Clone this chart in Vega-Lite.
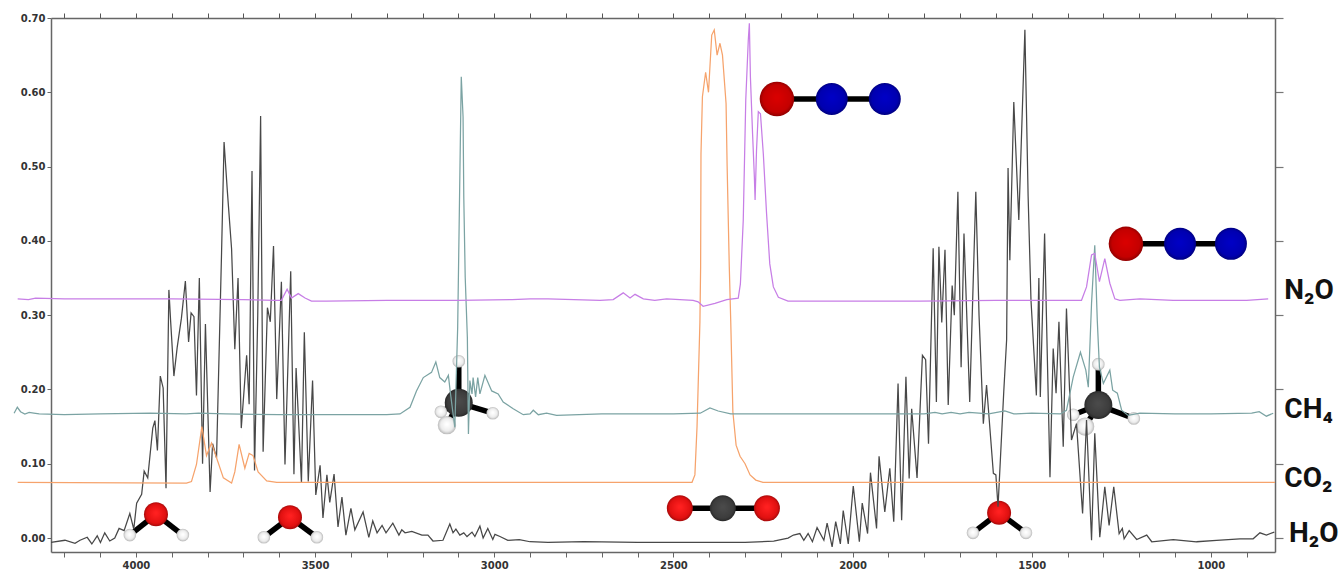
{
"$schema":"https://vega.github.io/schema/vega-lite/v6.json",
"width":1224,"height":534,
"autosize":{"type":"none"},
"padding":{"left":51,"top":18,"right":68,"bottom":22},
"background":"white",
"config":{"view":{"stroke":null},"font":"DejaVu Sans"},
"datasets":{
"curves":[
{"gas":"H2O","wn":4237,"abs":-0.006},{"gas":"H2O","wn":4198,"abs":-0.003},{"gas":"H2O","wn":4170,"abs":-0.007},{"gas":"H2O","wn":4156,"abs":-0.003},{"gas":"H2O","wn":4136,"abs":0.001},{"gas":"H2O","wn":4123,"abs":-0.008},{"gas":"H2O","wn":4108,"abs":0.003},{"gas":"H2O","wn":4099,"abs":-0.006},{"gas":"H2O","wn":4087,"abs":0.007},{"gas":"H2O","wn":4073,"abs":-0.004},{"gas":"H2O","wn":4059,"abs":0},{"gas":"H2O","wn":4047,"abs":0.013},{"gas":"H2O","wn":4033,"abs":0.01},{"gas":"H2O","wn":4017,"abs":0.033},{"gas":"H2O","wn":4006,"abs":0.012},{"gas":"H2O","wn":3998,"abs":0.047},{"gas":"H2O","wn":3984,"abs":0.059},{"gas":"H2O","wn":3977,"abs":0.09},{"gas":"H2O","wn":3967,"abs":0.081},{"gas":"H2O","wn":3953,"abs":0.148},{"gas":"H2O","wn":3947,"abs":0.158},{"gas":"H2O","wn":3940,"abs":0.118},{"gas":"H2O","wn":3932,"abs":0.218},{"gas":"H2O","wn":3924,"abs":0.202},{"gas":"H2O","wn":3916,"abs":0.067},{"gas":"H2O","wn":3908,"abs":0.334},{"gas":"H2O","wn":3903,"abs":0.291},{"gas":"H2O","wn":3894,"abs":0.218},{"gas":"H2O","wn":3885,"abs":0.256},{"gas":"H2O","wn":3873,"abs":0.296},{"gas":"H2O","wn":3862,"abs":0.346},{"gas":"H2O","wn":3853,"abs":0.264},{"gas":"H2O","wn":3846,"abs":0.303},{"gas":"H2O","wn":3838,"abs":0.298},{"gas":"H2O","wn":3831,"abs":0.192},{"gas":"H2O","wn":3823,"abs":0.35},{"gas":"H2O","wn":3814,"abs":0.1},{"gas":"H2O","wn":3806,"abs":0.288},{"gas":"H2O","wn":3793,"abs":0.062},{"gas":"H2O","wn":3786,"abs":0.127},{"gas":"H2O","wn":3775,"abs":0.108},{"gas":"H2O","wn":3761,"abs":0.384},{"gas":"H2O","wn":3754,"abs":0.533},{"gas":"H2O","wn":3745,"abs":0.468},{"gas":"H2O","wn":3733,"abs":0.389},{"gas":"H2O","wn":3724,"abs":0.254},{"gas":"H2O","wn":3715,"abs":0.35},{"gas":"H2O","wn":3706,"abs":0.148},{"gas":"H2O","wn":3691,"abs":0.246},{"gas":"H2O","wn":3684,"abs":0.18},{"gas":"H2O","wn":3676,"abs":0.494},{"gas":"H2O","wn":3669,"abs":0.091},{"gas":"H2O","wn":3660,"abs":0.3},{"gas":"H2O","wn":3652,"abs":0.568},{"gas":"H2O","wn":3645,"abs":0.116},{"gas":"H2O","wn":3633,"abs":0.31},{"gas":"H2O","wn":3625,"abs":0.291},{"gas":"H2O","wn":3616,"abs":0.393},{"gas":"H2O","wn":3607,"abs":0.187},{"gas":"H2O","wn":3594,"abs":0.345},{"gas":"H2O","wn":3584,"abs":0.099},{"gas":"H2O","wn":3568,"abs":0.359},{"gas":"H2O","wn":3559,"abs":0.086},{"gas":"H2O","wn":3553,"abs":0.229},{"gas":"H2O","wn":3538,"abs":0.074},{"gas":"H2O","wn":3530,"abs":0.277},{"gas":"H2O","wn":3519,"abs":0.076},{"gas":"H2O","wn":3507,"abs":0.212},{"gas":"H2O","wn":3498,"abs":0.058},{"gas":"H2O","wn":3486,"abs":0.098},{"gas":"H2O","wn":3478,"abs":0.027},{"gas":"H2O","wn":3467,"abs":0.085},{"gas":"H2O","wn":3459,"abs":0.048},{"gas":"H2O","wn":3447,"abs":0.086},{"gas":"H2O","wn":3436,"abs":0.015},{"gas":"H2O","wn":3425,"abs":0.055},{"gas":"H2O","wn":3414,"abs":0.004},{"gas":"H2O","wn":3400,"abs":0.04},{"gas":"H2O","wn":3389,"abs":0.011},{"gas":"H2O","wn":3366,"abs":0.035},{"gas":"H2O","wn":3350,"abs":0.001},{"gas":"H2O","wn":3339,"abs":0.023},{"gas":"H2O","wn":3327,"abs":0.007},{"gas":"H2O","wn":3313,"abs":0.017},{"gas":"H2O","wn":3302,"abs":0.007},{"gas":"H2O","wn":3283,"abs":0.02},{"gas":"H2O","wn":3266,"abs":0.004},{"gas":"H2O","wn":3258,"abs":0.011},{"gas":"H2O","wn":3249,"abs":0.007},{"gas":"H2O","wn":3230,"abs":0.009},{"gas":"H2O","wn":3202,"abs":0.004},{"gas":"H2O","wn":3185,"abs":0.004},{"gas":"H2O","wn":3171,"abs":-0.004},{"gas":"H2O","wn":3143,"abs":-0.003},{"gas":"H2O","wn":3124,"abs":0.019},{"gas":"H2O","wn":3115,"abs":0.007},{"gas":"H2O","wn":3107,"abs":0.012},{"gas":"H2O","wn":3096,"abs":0.004},{"gas":"H2O","wn":3085,"abs":0.007},{"gas":"H2O","wn":3076,"abs":0.002},{"gas":"H2O","wn":3062,"abs":0.008},{"gas":"H2O","wn":3054,"abs":0.002},{"gas":"H2O","wn":3040,"abs":0.016},{"gas":"H2O","wn":3031,"abs":0},{"gas":"H2O","wn":3018,"abs":0.013},{"gas":"H2O","wn":3004,"abs":-0.002},{"gas":"H2O","wn":2998,"abs":0.005},{"gas":"H2O","wn":2984,"abs":0.002},{"gas":"H2O","wn":2962,"abs":-0.003},{"gas":"H2O","wn":2930,"abs":-0.002},{"gas":"H2O","wn":2900,"abs":-0.005},{"gas":"H2O","wn":2850,"abs":-0.006},{"gas":"H2O","wn":2750,"abs":-0.005},{"gas":"H2O","wn":2600,"abs":-0.006},{"gas":"H2O","wn":2450,"abs":-0.006},{"gas":"H2O","wn":2300,"abs":-0.006},{"gas":"H2O","wn":2220,"abs":-0.004},{"gas":"H2O","wn":2180,"abs":0},{"gas":"H2O","wn":2165,"abs":0.004},{"gas":"H2O","wn":2147,"abs":0.006},{"gas":"H2O","wn":2136,"abs":-0.003},{"gas":"H2O","wn":2124,"abs":0.006},{"gas":"H2O","wn":2112,"abs":-0.005},{"gas":"H2O","wn":2099,"abs":0.014},{"gas":"H2O","wn":2080,"abs":-0.003},{"gas":"H2O","wn":2071,"abs":0.02},{"gas":"H2O","wn":2057,"abs":-0.012},{"gas":"H2O","wn":2047,"abs":0.022},{"gas":"H2O","wn":2034,"abs":-0.008},{"gas":"H2O","wn":2026,"abs":0.037},{"gas":"H2O","wn":2012,"abs":-0.008},{"gas":"H2O","wn":1998,"abs":0.07},{"gas":"H2O","wn":1981,"abs":-0.005},{"gas":"H2O","wn":1973,"abs":0.047},{"gas":"H2O","wn":1958,"abs":0.006},{"gas":"H2O","wn":1950,"abs":0.088},{"gas":"H2O","wn":1933,"abs":0.013},{"gas":"H2O","wn":1926,"abs":0.11},{"gas":"H2O","wn":1910,"abs":0.035},{"gas":"H2O","wn":1896,"abs":0.094},{"gas":"H2O","wn":1885,"abs":0.022},{"gas":"H2O","wn":1873,"abs":0.208},{"gas":"H2O","wn":1863,"abs":0.024},{"gas":"H2O","wn":1851,"abs":0.217},{"gas":"H2O","wn":1842,"abs":0.08},{"gas":"H2O","wn":1835,"abs":0.174},{"gas":"H2O","wn":1820,"abs":0.081},{"gas":"H2O","wn":1805,"abs":0.246},{"gas":"H2O","wn":1796,"abs":0.24},{"gas":"H2O","wn":1788,"abs":0.127},{"gas":"H2O","wn":1775,"abs":0.39},{"gas":"H2O","wn":1766,"abs":0.183},{"gas":"H2O","wn":1759,"abs":0.392},{"gas":"H2O","wn":1751,"abs":0.29},{"gas":"H2O","wn":1742,"abs":0.388},{"gas":"H2O","wn":1733,"abs":0.179},{"gas":"H2O","wn":1722,"abs":0.34},{"gas":"H2O","wn":1716,"abs":0.3},{"gas":"H2O","wn":1706,"abs":0.466},{"gas":"H2O","wn":1697,"abs":0.23},{"gas":"H2O","wn":1689,"abs":0.41},{"gas":"H2O","wn":1673,"abs":0.183},{"gas":"H2O","wn":1656,"abs":0.466},{"gas":"H2O","wn":1647,"abs":0.3},{"gas":"H2O","wn":1635,"abs":0.154},{"gas":"H2O","wn":1626,"abs":0.206},{"gas":"H2O","wn":1607,"abs":0.087},{"gas":"H2O","wn":1600,"abs":0.085},{"gas":"H2O","wn":1594,"abs":0.042},{"gas":"H2O","wn":1578,"abs":0.197},{"gas":"H2O","wn":1570,"abs":0.267},{"gas":"H2O","wn":1566,"abs":0.498},{"gas":"H2O","wn":1561,"abs":0.374},{"gas":"H2O","wn":1550,"abs":0.587},{"gas":"H2O","wn":1536,"abs":0.428},{"gas":"H2O","wn":1519,"abs":0.684},{"gas":"H2O","wn":1510,"abs":0.46},{"gas":"H2O","wn":1502,"abs":0.32},{"gas":"H2O","wn":1487,"abs":0.192},{"gas":"H2O","wn":1480,"abs":0.35},{"gas":"H2O","wn":1476,"abs":0.19},{"gas":"H2O","wn":1464,"abs":0.41},{"gas":"H2O","wn":1449,"abs":0.082},{"gas":"H2O","wn":1440,"abs":0.255},{"gas":"H2O","wn":1432,"abs":0.195},{"gas":"H2O","wn":1424,"abs":0.291},{"gas":"H2O","wn":1412,"abs":0.123},{"gas":"H2O","wn":1403,"abs":0.309},{"gas":"H2O","wn":1389,"abs":0.132},{"gas":"H2O","wn":1375,"abs":0.154},{"gas":"H2O","wn":1358,"abs":0.033},{"gas":"H2O","wn":1347,"abs":0.159},{"gas":"H2O","wn":1333,"abs":-0.003},{"gas":"H2O","wn":1324,"abs":0.141},{"gas":"H2O","wn":1310,"abs":0.001},{"gas":"H2O","wn":1296,"abs":0.069},{"gas":"H2O","wn":1284,"abs":0.017},{"gas":"H2O","wn":1271,"abs":0.069},{"gas":"H2O","wn":1256,"abs":0.006},{"gas":"H2O","wn":1247,"abs":0.013},{"gas":"H2O","wn":1242,"abs":-0.001},{"gas":"H2O","wn":1228,"abs":0.01},{"gas":"H2O","wn":1207,"abs":-0.002},{"gas":"H2O","wn":1179,"abs":0.004},{"gas":"H2O","wn":1165,"abs":-0.005},{"gas":"H2O","wn":1105,"abs":-0.002},{"gas":"H2O","wn":1040,"abs":-0.005},{"gas":"H2O","wn":984,"abs":-0.003},{"gas":"H2O","wn":919,"abs":-0.001},{"gas":"H2O","wn":882,"abs":-0.001},{"gas":"H2O","wn":863,"abs":0.007},{"gas":"H2O","wn":845,"abs":0.004},{"gas":"H2O","wn":823,"abs":0.008},

{"gas":"CO2","wn":4330,"abs":0.075},{"gas":"CO2","wn":3859,"abs":0.074},{"gas":"CO2","wn":3845,"abs":0.076},{"gas":"CO2","wn":3831,"abs":0.099},{"gas":"CO2","wn":3816,"abs":0.15},{"gas":"CO2","wn":3803,"abs":0.111},{"gas":"CO2","wn":3789,"abs":0.128},{"gas":"CO2","wn":3775,"abs":0.108},{"gas":"CO2","wn":3756,"abs":0.081},{"gas":"CO2","wn":3733,"abs":0.074},{"gas":"CO2","wn":3724,"abs":0.089},{"gas":"CO2","wn":3712,"abs":0.126},{"gas":"CO2","wn":3696,"abs":0.094},{"gas":"CO2","wn":3684,"abs":0.114},{"gas":"CO2","wn":3673,"abs":0.111},{"gas":"CO2","wn":3659,"abs":0.089},{"gas":"CO2","wn":3635,"abs":0.077},{"gas":"CO2","wn":3607,"abs":0.075},{"gas":"CO2","wn":2448,"abs":0.075},{"gas":"CO2","wn":2440,"abs":0.085},{"gas":"CO2","wn":2434,"abs":0.15},{"gas":"CO2","wn":2426,"abs":0.29},{"gas":"CO2","wn":2424,"abs":0.365},{"gas":"CO2","wn":2423,"abs":0.517},{"gas":"CO2","wn":2419,"abs":0.594},{"gas":"CO2","wn":2410,"abs":0.627},{"gas":"CO2","wn":2402,"abs":0.6},{"gas":"CO2","wn":2393,"abs":0.677},{"gas":"CO2","wn":2386,"abs":0.684},{"gas":"CO2","wn":2378,"abs":0.65},{"gas":"CO2","wn":2370,"abs":0.666},{"gas":"CO2","wn":2363,"abs":0.65},{"gas":"CO2","wn":2353,"abs":0.585},{"gas":"CO2","wn":2350,"abs":0.5},{"gas":"CO2","wn":2344,"abs":0.365},{"gas":"CO2","wn":2340,"abs":0.293},{"gas":"CO2","wn":2334,"abs":0.17},{"gas":"CO2","wn":2325,"abs":0.125},{"gas":"CO2","wn":2314,"abs":0.11},{"gas":"CO2","wn":2300,"abs":0.1},{"gas":"CO2","wn":2286,"abs":0.085},{"gas":"CO2","wn":2270,"abs":0.078},{"gas":"CO2","wn":2250,"abs":0.075},{"gas":"CO2","wn":821,"abs":0.075},

{"gas":"CH4","wn":4340,"abs":0.168},{"gas":"CH4","wn":4331,"abs":0.176},{"gas":"CH4","wn":4322,"abs":0.17},{"gas":"CH4","wn":4310,"abs":0.167},{"gas":"CH4","wn":4298,"abs":0.169},{"gas":"CH4","wn":4285,"abs":0.168},{"gas":"CH4","wn":4270,"abs":0.167},{"gas":"CH4","wn":4200,"abs":0.166},{"gas":"CH4","wn":4100,"abs":0.167},{"gas":"CH4","wn":3960,"abs":0.168},{"gas":"CH4","wn":3860,"abs":0.167},{"gas":"CH4","wn":3825,"abs":0.168},{"gas":"CH4","wn":3750,"abs":0.167},{"gas":"CH4","wn":3600,"abs":0.166},{"gas":"CH4","wn":3450,"abs":0.166},{"gas":"CH4","wn":3300,"abs":0.166},{"gas":"CH4","wn":3263,"abs":0.167},{"gas":"CH4","wn":3235,"abs":0.176},{"gas":"CH4","wn":3217,"abs":0.198},{"gas":"CH4","wn":3198,"abs":0.216},{"gas":"CH4","wn":3175,"abs":0.223},{"gas":"CH4","wn":3163,"abs":0.237},{"gas":"CH4","wn":3152,"abs":0.216},{"gas":"CH4","wn":3138,"abs":0.21},{"gas":"CH4","wn":3128,"abs":0.219},{"gas":"CH4","wn":3122,"abs":0.194},{"gas":"CH4","wn":3110,"abs":0.149},{"gas":"CH4","wn":3102,"abs":0.284},{"gas":"CH4","wn":3098,"abs":0.418},{"gas":"CH4","wn":3092,"abs":0.621},{"gas":"CH4","wn":3087,"abs":0.567},{"gas":"CH4","wn":3085,"abs":0.459},{"gas":"CH4","wn":3081,"abs":0.351},{"gas":"CH4","wn":3075,"abs":0.27},{"gas":"CH4","wn":3072,"abs":0.14},{"gas":"CH4","wn":3068,"abs":0.212},{"gas":"CH4","wn":3062,"abs":0.194},{"gas":"CH4","wn":3059,"abs":0.216},{"gas":"CH4","wn":3052,"abs":0.19},{"gas":"CH4","wn":3046,"abs":0.216},{"gas":"CH4","wn":3040,"abs":0.194},{"gas":"CH4","wn":3026,"abs":0.219},{"gas":"CH4","wn":3007,"abs":0.198},{"gas":"CH4","wn":2989,"abs":0.194},{"gas":"CH4","wn":2975,"abs":0.183},{"gas":"CH4","wn":2947,"abs":0.174},{"gas":"CH4","wn":2919,"abs":0.166},{"gas":"CH4","wn":2900,"abs":0.167},{"gas":"CH4","wn":2891,"abs":0.172},{"gas":"CH4","wn":2877,"abs":0.166},{"gas":"CH4","wn":2854,"abs":0.168},{"gas":"CH4","wn":2826,"abs":0.165},{"gas":"CH4","wn":2700,"abs":0.167},{"gas":"CH4","wn":2500,"abs":0.167},{"gas":"CH4","wn":2425,"abs":0.168},{"gas":"CH4","wn":2398,"abs":0.175},{"gas":"CH4","wn":2375,"abs":0.171},{"gas":"CH4","wn":2340,"abs":0.167},{"gas":"CH4","wn":2000,"abs":0.167},{"gas":"CH4","wn":1800,"abs":0.167},{"gas":"CH4","wn":1770,"abs":0.169},{"gas":"CH4","wn":1750,"abs":0.167},{"gas":"CH4","wn":1725,"abs":0.169},{"gas":"CH4","wn":1700,"abs":0.167},{"gas":"CH4","wn":1675,"abs":0.169},{"gas":"CH4","wn":1620,"abs":0.167},{"gas":"CH4","wn":1575,"abs":0.171},{"gas":"CH4","wn":1550,"abs":0.167},{"gas":"CH4","wn":1500,"abs":0.168},{"gas":"CH4","wn":1420,"abs":0.167},{"gas":"CH4","wn":1403,"abs":0.172},{"gas":"CH4","wn":1384,"abs":0.217},{"gas":"CH4","wn":1364,"abs":0.25},{"gas":"CH4","wn":1349,"abs":0.226},{"gas":"CH4","wn":1342,"abs":0.203},{"gas":"CH4","wn":1333,"abs":0.316},{"gas":"CH4","wn":1324,"abs":0.394},{"gas":"CH4","wn":1317,"abs":0.293},{"gas":"CH4","wn":1311,"abs":0.23},{"gas":"CH4","wn":1300,"abs":0.208},{"gas":"CH4","wn":1291,"abs":0.217},{"gas":"CH4","wn":1282,"abs":0.226},{"gas":"CH4","wn":1274,"abs":0.199},{"gas":"CH4","wn":1261,"abs":0.195},{"gas":"CH4","wn":1249,"abs":0.172},{"gas":"CH4","wn":1231,"abs":0.165},{"gas":"CH4","wn":1198,"abs":0.168},{"gas":"CH4","wn":1100,"abs":0.167},{"gas":"CH4","wn":1000,"abs":0.167},{"gas":"CH4","wn":886,"abs":0.168},{"gas":"CH4","wn":865,"abs":0.17},{"gas":"CH4","wn":845,"abs":0.164},{"gas":"CH4","wn":826,"abs":0.168},

{"gas":"N2O","wn":4330,"abs":0.322},{"gas":"N2O","wn":4300,"abs":0.321},{"gas":"N2O","wn":4280,"abs":0.323},{"gas":"N2O","wn":4200,"abs":0.322},{"gas":"N2O","wn":3900,"abs":0.322},{"gas":"N2O","wn":3700,"abs":0.321},{"gas":"N2O","wn":3610,"abs":0.32},{"gas":"N2O","wn":3594,"abs":0.32},{"gas":"N2O","wn":3578,"abs":0.335},{"gas":"N2O","wn":3566,"abs":0.323},{"gas":"N2O","wn":3547,"abs":0.329},{"gas":"N2O","wn":3528,"abs":0.323},{"gas":"N2O","wn":3510,"abs":0.319},{"gas":"N2O","wn":3468,"abs":0.319},{"gas":"N2O","wn":3300,"abs":0.32},{"gas":"N2O","wn":3100,"abs":0.32},{"gas":"N2O","wn":2950,"abs":0.321},{"gas":"N2O","wn":2900,"abs":0.322},{"gas":"N2O","wn":2850,"abs":0.322},{"gas":"N2O","wn":2705,"abs":0.32},{"gas":"N2O","wn":2668,"abs":0.321},{"gas":"N2O","wn":2640,"abs":0.33},{"gas":"N2O","wn":2621,"abs":0.323},{"gas":"N2O","wn":2607,"abs":0.328},{"gas":"N2O","wn":2584,"abs":0.322},{"gas":"N2O","wn":2552,"abs":0.32},{"gas":"N2O","wn":2519,"abs":0.322},{"gas":"N2O","wn":2445,"abs":0.32},{"gas":"N2O","wn":2431,"abs":0.318},{"gas":"N2O","wn":2417,"abs":0.312},{"gas":"N2O","wn":2384,"abs":0.316},{"gas":"N2O","wn":2351,"abs":0.321},{"gas":"N2O","wn":2319,"abs":0.323},{"gas":"N2O","wn":2313,"abs":0.342},{"gas":"N2O","wn":2305,"abs":0.428},{"gas":"N2O","wn":2298,"abs":0.59},{"gas":"N2O","wn":2291,"abs":0.67},{"gas":"N2O","wn":2288,"abs":0.693},{"gas":"N2O","wn":2285,"abs":0.62},{"gas":"N2O","wn":2279,"abs":0.544},{"gas":"N2O","wn":2274,"abs":0.486},{"gas":"N2O","wn":2272,"abs":0.455},{"gas":"N2O","wn":2268,"abs":0.522},{"gas":"N2O","wn":2263,"abs":0.574},{"gas":"N2O","wn":2257,"abs":0.571},{"gas":"N2O","wn":2249,"abs":0.517},{"gas":"N2O","wn":2240,"abs":0.437},{"gas":"N2O","wn":2231,"abs":0.369},{"gas":"N2O","wn":2221,"abs":0.338},{"gas":"N2O","wn":2207,"abs":0.324},{"gas":"N2O","wn":2180,"abs":0.319},{"gas":"N2O","wn":2054,"abs":0.319},{"gas":"N2O","wn":1812,"abs":0.319},{"gas":"N2O","wn":1600,"abs":0.32},{"gas":"N2O","wn":1450,"abs":0.32},{"gas":"N2O","wn":1361,"abs":0.32},{"gas":"N2O","wn":1347,"abs":0.338},{"gas":"N2O","wn":1333,"abs":0.381},{"gas":"N2O","wn":1324,"abs":0.383},{"gas":"N2O","wn":1311,"abs":0.345},{"gas":"N2O","wn":1296,"abs":0.376},{"gas":"N2O","wn":1282,"abs":0.343},{"gas":"N2O","wn":1268,"abs":0.322},{"gas":"N2O","wn":1254,"abs":0.32},{"gas":"N2O","wn":1198,"abs":0.322},{"gas":"N2O","wn":1105,"abs":0.32},{"gas":"N2O","wn":900,"abs":0.32},{"gas":"N2O","wn":840,"abs":0.322}
],
"atoms":[
{"molecule":"H2O-a","atom":"O","ball":"water O","wn":3944,"abs":0.032},{"molecule":"H2O-a","atom":"H","ball":"water H","wn":4017,"abs":0.004},{"molecule":"H2O-a","atom":"H","ball":"water H","wn":3869,"abs":0.004},
{"molecule":"H2O-b","atom":"O","ball":"water O","wn":3570,"abs":0.028},{"molecule":"H2O-b","atom":"H","ball":"water H","wn":3643,"abs":0.001},{"molecule":"H2O-b","atom":"H","ball":"water H","wn":3495,"abs":0.001},
{"molecule":"H2O-c","atom":"O","ball":"water O","wn":1591,"abs":0.034},{"molecule":"H2O-c","atom":"H","ball":"water H","wn":1664,"abs":0.007},{"molecule":"H2O-c","atom":"H","ball":"water H","wn":1516,"abs":0.007},
{"molecule":"CO2","atom":"O","ball":"carbon dioxide","wn":2482,"abs":0.04},{"molecule":"CO2","atom":"C","ball":"carbon dioxide","wn":2362,"abs":0.04},{"molecule":"CO2","atom":"O","ball":"carbon dioxide","wn":2239,"abs":0.04},
{"molecule":"CH4-a","atom":"C","ball":"methane C","wn":3099,"abs":0.182},{"molecule":"CH4-a","atom":"H","ball":"methane H","wn":3099,"abs":0.238},{"molecule":"CH4-a","atom":"H","ball":"methane H","wn":3149,"abs":0.17},{"molecule":"CH4-a","atom":"H","ball":"methane H near","wn":3132,"abs":0.152},{"molecule":"CH4-a","atom":"H","ball":"methane H","wn":3004,"abs":0.168},
{"molecule":"CH4-b","atom":"C","ball":"methane C","wn":1314,"abs":0.179},{"molecule":"CH4-b","atom":"H","ball":"methane H","wn":1314,"abs":0.234},{"molecule":"CH4-b","atom":"H","ball":"methane H","wn":1384,"abs":0.166},{"molecule":"CH4-b","atom":"H","ball":"methane H near","wn":1351,"abs":0.15},{"molecule":"CH4-b","atom":"H","ball":"methane H","wn":1215,"abs":0.161},
{"molecule":"N2O-a","atom":"Ox","ball":"nitrous O","wn":2211,"abs":0.591},{"molecule":"N2O-a","atom":"N","ball":"nitrous N","wn":2058,"abs":0.591},{"molecule":"N2O-a","atom":"N","ball":"nitrous N","wn":1910,"abs":0.591},
{"molecule":"N2O-b","atom":"Ox","ball":"nitrous O","wn":1237,"abs":0.396},{"molecule":"N2O-b","atom":"N","ball":"nitrous N","wn":1086,"abs":0.396},{"molecule":"N2O-b","atom":"N","ball":"nitrous N","wn":944,"abs":0.396}
],
"bonds":[
{"bond":"w1a","wn":3944,"abs":0.032},{"bond":"w1a","wn":4017,"abs":0.004},{"bond":"w1b","wn":3944,"abs":0.032},{"bond":"w1b","wn":3869,"abs":0.004},
{"bond":"w2a","wn":3570,"abs":0.028},{"bond":"w2a","wn":3643,"abs":0.001},{"bond":"w2b","wn":3570,"abs":0.028},{"bond":"w2b","wn":3495,"abs":0.001},
{"bond":"w3a","wn":1591,"abs":0.034},{"bond":"w3a","wn":1664,"abs":0.007},{"bond":"w3b","wn":1591,"abs":0.034},{"bond":"w3b","wn":1516,"abs":0.007},
{"bond":"c","wn":2482,"abs":0.04},{"bond":"c","wn":2239,"abs":0.04},
{"bond":"m1a","wn":3099,"abs":0.182},{"bond":"m1a","wn":3099,"abs":0.238},{"bond":"m1b","wn":3099,"abs":0.182},{"bond":"m1b","wn":3149,"abs":0.17},{"bond":"m1c","wn":3099,"abs":0.182},{"bond":"m1c","wn":3132,"abs":0.152},{"bond":"m1d","wn":3099,"abs":0.182},{"bond":"m1d","wn":3004,"abs":0.168},
{"bond":"m2a","wn":1314,"abs":0.179},{"bond":"m2a","wn":1314,"abs":0.234},{"bond":"m2b","wn":1314,"abs":0.179},{"bond":"m2b","wn":1384,"abs":0.166},{"bond":"m2c","wn":1314,"abs":0.179},{"bond":"m2c","wn":1351,"abs":0.15},{"bond":"m2d","wn":1314,"abs":0.179},{"bond":"m2d","wn":1215,"abs":0.161},
{"bond":"n1","wn":2211,"abs":0.591},{"bond":"n1","wn":1910,"abs":0.591},
{"bond":"n2","wn":1237,"abs":0.396},{"bond":"n2","wn":944,"abs":0.396}
],
"labels":[
{"text":"N₂O","wn":795,"abs":0.333},{"text":"CH₄","wn":795,"abs":0.172},{"text":"CO₂","wn":795,"abs":0.08},{"text":"H₂O","wn":782,"abs":0.006}
]
},
"resolve":{"axis":{"x":"independent","y":"independent"}},
"layer":[
{"data":{"name":"bonds"},
 "mark":{"type":"line","stroke":"#000000","strokeWidth":5.5,"strokeCap":"butt"},
 "encoding":{
  "x":{"field":"wn","type":"quantitative","scale":{"domain":[4237,821],"nice":false,"zero":false},
    "axis":{"orient":"top","title":null,"values":[4200,4100,4000,3900,3800,3700,3600,3500,3400,3300,3200,3100,3000,2900,2800,2700,2600,2500,2400,2300,2200,2100,2000,1900,1800,1700,1600,1500,1400,1300,1200,1100,1000,900],"labels":false,"grid":false,"domainColor":"#666666","domainWidth":1.5,"tickColor":"#555555","tickWidth":1,"encoding":{"ticks":{"update":{"y2":{"signal":"datum.value % 500 === 0 ? -7 : -3"}}}}}},
  "y":{"field":"abs","type":"quantitative","scale":{"domain":[-0.0188,0.7],"nice":false,"zero":false},
    "axis":{"orient":"right","title":null,"values":[0,0.1,0.2,0.3,0.4,0.5,0.6,0.7],"labels":false,"grid":false,"domainColor":"#666666","domainWidth":1.5,"tickColor":"#777777","tickWidth":1.2,"tickSize":8}},
  "detail":{"field":"bond"}}},
{"data":{"name":"atoms"},"transform":[{"filter":"datum.atom === 'O'"}],
 "mark":{"type":"point","shape":"circle","filled":true,"opacity":1,"fill":{"gradient":"radial","x1":0.5,"y1":0.45,"r1":0.05,"x2":0.5,"y2":0.5,"r2":0.55,"stops":[{"offset":0,"color":"#ff2020"},{"offset":0.7,"color":"#e01010"},{"offset":1,"color":"#8a0808"}]}},
 "encoding":{"x":{"field":"wn","type":"quantitative","axis":null},"y":{"field":"abs","type":"quantitative","axis":null},
  "size":{"field":"ball","type":"nominal","legend":null,"scale":{"type":"ordinal","domain":["water O","water H","carbon dioxide","methane C","methane H","methane H near","nitrous O","nitrous N"],"range":[576,160,676,784,160,340,1190,1024]}}}},
{"data":{"name":"atoms"},"transform":[{"filter":"datum.atom === 'Ox'"}],
 "mark":{"type":"point","shape":"circle","filled":true,"opacity":1,"fill":{"gradient":"radial","x1":0.5,"y1":0.45,"r1":0.05,"x2":0.5,"y2":0.5,"r2":0.55,"stops":[{"offset":0,"color":"#d80000"},{"offset":0.7,"color":"#c40000"},{"offset":1,"color":"#7a0000"}]}},
 "encoding":{"x":{"field":"wn","type":"quantitative","axis":null},"y":{"field":"abs","type":"quantitative","axis":null},
  "size":{"field":"ball","type":"nominal","legend":null,"scale":{"type":"ordinal","domain":["water O","water H","carbon dioxide","methane C","methane H","methane H near","nitrous O","nitrous N"],"range":[576,160,676,784,160,340,1190,1024]}}}},
{"data":{"name":"atoms"},"transform":[{"filter":"datum.atom === 'N'"}],
 "mark":{"type":"point","shape":"circle","filled":true,"opacity":1,"fill":{"gradient":"radial","x1":0.5,"y1":0.45,"r1":0.05,"x2":0.5,"y2":0.5,"r2":0.55,"stops":[{"offset":0,"color":"#0000c4"},{"offset":0.7,"color":"#0000b0"},{"offset":1,"color":"#00006a"}]}},
 "encoding":{"x":{"field":"wn","type":"quantitative","axis":null},"y":{"field":"abs","type":"quantitative","axis":null},
  "size":{"field":"ball","type":"nominal","legend":null,"scale":{"type":"ordinal","domain":["water O","water H","carbon dioxide","methane C","methane H","methane H near","nitrous O","nitrous N"],"range":[576,160,676,784,160,340,1190,1024]}}}},
{"data":{"name":"atoms"},"transform":[{"filter":"datum.atom === 'C'"}],
 "mark":{"type":"point","shape":"circle","filled":true,"opacity":1,"fill":{"gradient":"radial","x1":0.5,"y1":0.45,"r1":0.05,"x2":0.5,"y2":0.5,"r2":0.55,"stops":[{"offset":0,"color":"#4a4a4a"},{"offset":0.7,"color":"#3c3c3c"},{"offset":1,"color":"#202020"}]}},
 "encoding":{"x":{"field":"wn","type":"quantitative","axis":null},"y":{"field":"abs","type":"quantitative","axis":null},
  "size":{"field":"ball","type":"nominal","legend":null,"scale":{"type":"ordinal","domain":["water O","water H","carbon dioxide","methane C","methane H","methane H near","nitrous O","nitrous N"],"range":[576,160,676,784,160,340,1190,1024]}}}},
{"data":{"name":"atoms"},"transform":[{"filter":"datum.atom === 'H'"}],
 "mark":{"type":"point","shape":"circle","filled":true,"opacity":1,"fill":{"gradient":"radial","x1":0.5,"y1":0.45,"r1":0.05,"x2":0.5,"y2":0.5,"r2":0.55,"stops":[{"offset":0,"color":"#ffffff"},{"offset":0.6,"color":"#ececec"},{"offset":1,"color":"#a8a8a8"}]}},
 "encoding":{"x":{"field":"wn","type":"quantitative","axis":null},"y":{"field":"abs","type":"quantitative","axis":null},
  "size":{"field":"ball","type":"nominal","legend":null,"scale":{"type":"ordinal","domain":["water O","water H","carbon dioxide","methane C","methane H","methane H near","nitrous O","nitrous N"],"range":[576,160,676,784,160,340,1190,1024]}}}},
{"data":{"name":"curves"},
 "mark":{"type":"line","strokeWidth":1.25,"interpolate":"linear"},
 "encoding":{
  "x":{"field":"wn","type":"quantitative",
    "axis":{"orient":"bottom","title":null,"values":[4200,4100,4000,3900,3800,3700,3600,3500,3400,3300,3200,3100,3000,2900,2800,2700,2600,2500,2400,2300,2200,2100,2000,1900,1800,1700,1600,1500,1400,1300,1200,1100,1000,900],"labelExpr":"datum.value % 500 === 0 ? datum.value : ''","labelFont":"DejaVu Sans","labelFontWeight":"bold","labelFontSize":10,"labelColor":"#333333","labelPadding":3,"labelOverlap":false,"labelFlush":false,"grid":false,"domainColor":"#666666","domainWidth":1.5,"tickColor":"#666666","tickWidth":1,"encoding":{"ticks":{"update":{"y2":{"signal":"datum.value % 500 === 0 ? 8 : 5"}}}}}},
  "y":{"field":"abs","type":"quantitative",
    "axis":{"orient":"left","title":null,"values":[0,0.1,0.2,0.3,0.4,0.5,0.6,0.7],"format":".2f","labelFont":"DejaVu Sans","labelFontWeight":"bold","labelFontSize":10,"labelColor":"#333333","labelPadding":2,"grid":false,"domainColor":"#666666","domainWidth":1.5,"tickColor":"#666666","tickWidth":1,"tickSize":4}},
  "color":{"field":"gas","type":"nominal","legend":null,"sort":null,"scale":{"domain":["H2O","CO2","CH4","N2O"],"range":["#484848","#f6a36c","#7ba3a3","#c77ee6"]}},
  "order":{"field":"wn","type":"quantitative"}}},
{"data":{"name":"labels"},
 "mark":{"type":"text","align":"left","baseline":"middle","font":"Roboto","fontWeight":"bold","fontSize":28,"color":"#111111"},
 "encoding":{"x":{"field":"wn","type":"quantitative","axis":null},"y":{"field":"abs","type":"quantitative","axis":null},"text":{"field":"text"}}}
]
}
